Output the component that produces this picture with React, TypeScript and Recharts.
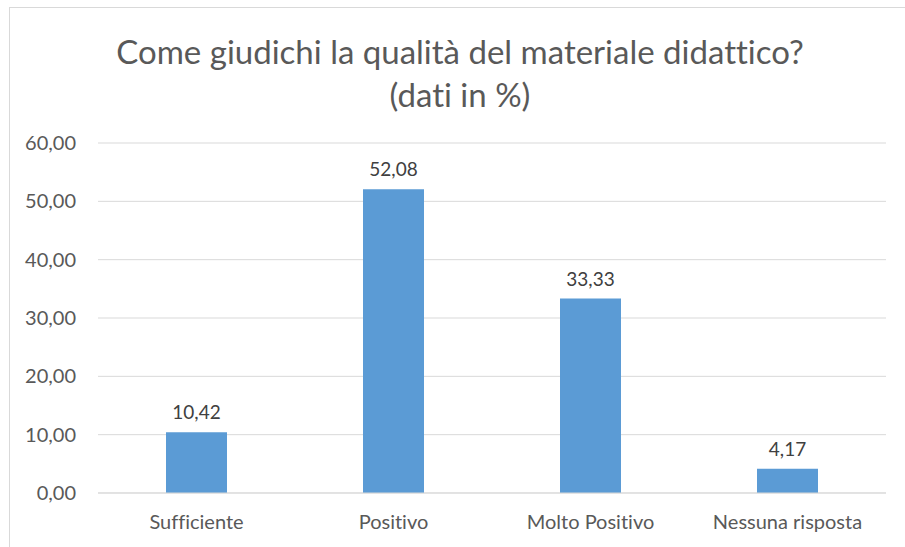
import { BarChart, Bar, XAxis, YAxis, CartesianGrid, LabelList } from 'recharts';

const categories = ['Sufficiente', 'Positivo', 'Molto Positivo', 'Nessuna risposta'];
const percentages = [10.42, 52.08, 33.33, 4.17];
const yTicks = [0, 10, 20, 30, 40, 50, 60];

const FONT = 'Lato, "Open Sans", sans-serif';
const fmt = (v: any) => Number(v).toFixed(2).replace('.', ',');

const data = categories.map((name, i) => ({ name, value: percentages[i] }));

export default function App() {
  return (
    <div style={{ position: 'fixed', left: 0, top: 0, width: 905, height: 547, background: '#fff', fontFamily: FONT, fontVariantLigatures: 'none', overflow: 'hidden' }}>
      <div style={{ position: 'absolute', left: 9, top: 7, width: 900, height: 550, borderLeft: '1px solid #d9d9d9', borderTop: '1px solid #d9d9d9' }} />
      <div style={{ position: 'absolute', left: 0, width: 920, top: 30, textAlign: 'center', color: '#595959', fontSize: 33, lineHeight: '43px' }}>
        Come giudichi la qualità del materiale didattico?<br />(dati in %)
      </div>
      <div style={{ position: 'absolute', left: 0, top: 0 }}>
        <BarChart width={905} height={547} data={data} margin={{ top: 143, right: 19, bottom: 19, left: 20 }} barSize={61}>
          <CartesianGrid stroke="#d9d9d9" vertical={false} />
          <XAxis
            dataKey="name"
            axisLine={{ stroke: '#d9d9d9' }}
            tickLine={false}
            tickSize={0}
            tickMargin={22}
            height={35}
            tick={{ fill: '#595959', fontSize: 20, fontFamily: FONT }}
          />
          <YAxis
            domain={[0, 60]}
            ticks={yTicks}
            tickFormatter={fmt}
            axisLine={false}
            tickLine={false}
            tickSize={0}
            tickMargin={22}
            width={78}
            tick={{ fill: '#595959', fontSize: 20, fontFamily: FONT }}
          />
          <Bar dataKey="value" fill="#5B9BD5" isAnimationActive={false}>
            <LabelList dataKey="value" position="top" offset={13} formatter={fmt} fill="#404040" fontSize={19} fontFamily={FONT} />
          </Bar>
        </BarChart>
      </div>
    </div>
  );
}
